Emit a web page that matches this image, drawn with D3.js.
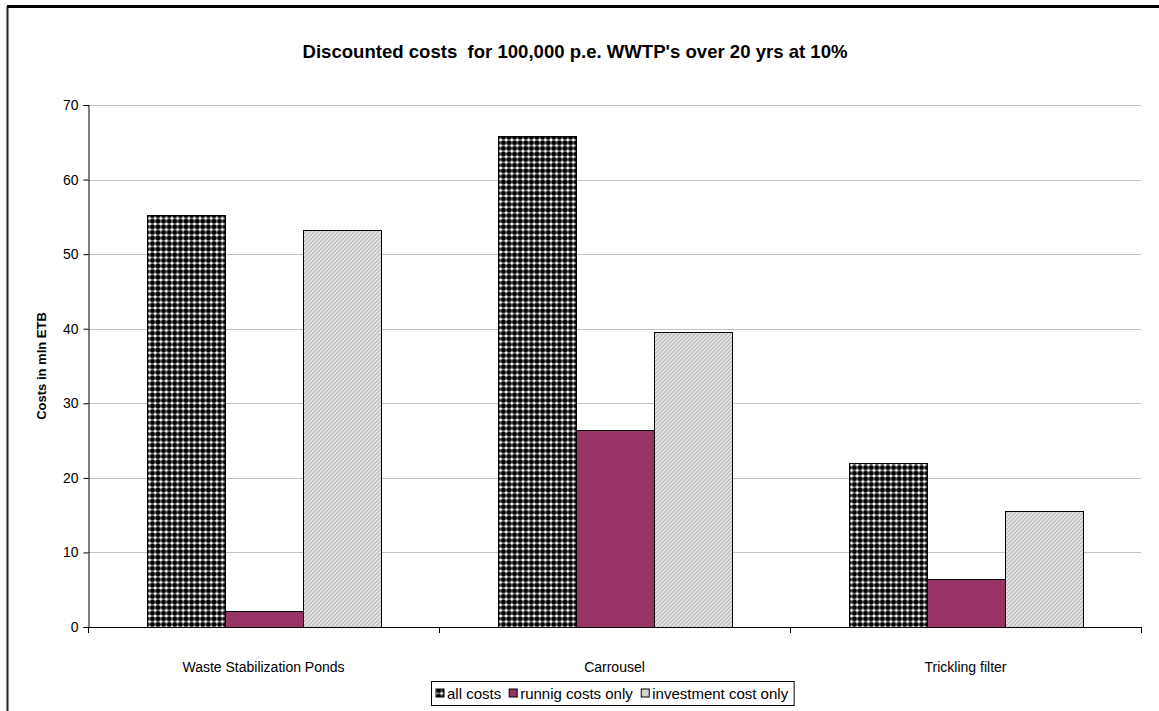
<!DOCTYPE html>
<html>
<head>
<meta charset="utf-8">
<script src="https://cdn.jsdelivr.net/npm/d3@7"></script>
<style>
  body { margin: 0; background: #fff; }
  text { font-family: Arial, "Liberation Sans", sans-serif; }
</style>
</head>
<body>
<div id="chart"></div>
<script>
let categories = ['Waste Stabilization Ponds', 'Carrousel', 'Trickling filter'];
let seriesNames = ['all costs', 'runnig costs only', 'investment cost only'];
let allCosts = [55.2, 65.9, 22.0];
let runningCosts = [2.1, 26.4, 6.4];
let investmentCosts = [53.3, 39.5, 15.5];
let yTicks = [0, 10, 20, 30, 40, 50, 60, 70];

let W = 1159, H = 711;
let plot = {left: 88, right: 1141, top: 105, bottom: 627};

let svg = d3.select('#chart').append('svg')
    .attr('width', W)
    .attr('height', H);

let defs = svg.append('defs');

// dotted pattern for "all costs"
let dots = defs.append('pattern')
    .attr('id', 'pDots')
    .attr('patternUnits', 'userSpaceOnUse')
    .attr('width', 5.6).attr('height', 5.6);
dots.append('rect').attr('width', 5.6).attr('height', 5.6).attr('fill', '#fff');
dots.append('circle').attr('cx', 2.8).attr('cy', 2.8).attr('r', 2.6).attr('fill', '#000');

// diagonal stripes for "investment cost only"
let stripes = defs.append('pattern')
    .attr('id', 'pStripes')
    .attr('patternUnits', 'userSpaceOnUse')
    .attr('width', 4).attr('height', 4);
stripes.append('rect').attr('width', 4).attr('height', 4).attr('fill', '#bdbdbd');
stripes.append('path')
    .attr('d', 'M-1,1 L1,-1 M0,4 L4,0 M3,5 L5,3')
    .attr('stroke', '#ececec')
    .attr('stroke-width', 1.3);

let fills = ['url(#pDots)', '#993366', 'url(#pStripes)'];

// outer frame (only left and top visible)
svg.append('line').attr('x1', 7.5).attr('x2', 7.5).attr('y1', 6).attr('y2', H)
    .attr('stroke', '#222').attr('stroke-width', 2);
svg.append('line').attr('x1', 7).attr('x2', W).attr('y1', 6.5).attr('y2', 6.5)
    .attr('stroke', '#000').attr('stroke-width', 3);

let x0 = d3.scaleBand().domain(categories).range([plot.left, plot.right]).paddingInner(0).paddingOuter(0);
let x1 = d3.scaleBand().domain(seriesNames).range([58.5, x0.bandwidth() - 58.5]);
let y = d3.scaleLinear().domain([0, 70]).range([plot.bottom, plot.top]);

// gridlines
svg.append('g')
    .selectAll('line')
    .data(yTicks.filter(d => d > 0))
    .enter()
    .append('line')
    .attr('x1', plot.left).attr('x2', plot.right)
    .attr('y1', d => Math.round(y(d)) + 0.5).attr('y2', d => Math.round(y(d)) + 0.5)
    .attr('stroke', '#c0c0c0');

// bars
let rows = categories.map((c, i) => ({
    cat: c,
    vals: [allCosts[i], runningCosts[i], investmentCosts[i]]
}));

let groups = svg.append('g').selectAll('g')
    .data(rows)
    .enter()
    .append('g')
    .attr('transform', d => 'translate(' + x0(d.cat) + ',0)');

groups.selectAll('rect')
    .data(d => d.vals.map((v, j) => ({name: seriesNames[j], v: v, j: j})))
    .enter()
    .append('rect')
    .attr('x', d => Math.round(x1(d.name)) + 0.5)
    .attr('y', d => Math.round(y(d.v)) + 0.5)
    .attr('width', x1.bandwidth())
    .attr('height', d => Math.round(y(0)) - Math.round(y(d.v)))
    .attr('fill', d => fills[d.j])
    .attr('stroke', '#000')
    .attr('stroke-width', 1);

// y axis
let yAxis = svg.append('g')
    .attr('transform', 'translate(' + (plot.left + 0.5) + ',0)')
    .call(d3.axisLeft(y).tickValues(yTicks).tickSize(5).tickPadding(5).tickFormat(d3.format('d')));
yAxis.select('.domain').attr('stroke', '#000');
yAxis.selectAll('text').attr('font-size', 14).attr('fill', '#000')
    .style('font-family', 'Arial, "Liberation Sans", sans-serif');

// x axis with ticks at category boundaries
let xg = svg.append('g');
xg.append('line')
    .attr('x1', plot.left).attr('x2', plot.right + 1)
    .attr('y1', Math.round(y(0)) + 0.5).attr('y2', Math.round(y(0)) + 0.5)
    .attr('stroke', '#000');
let bounds = categories.map(c => x0(c)).concat([x0.range()[1]]);
xg.selectAll('line.tk')
    .data(bounds)
    .enter()
    .append('line')
    .attr('class', 'tk')
    .attr('x1', d => Math.round(d) + 0.5).attr('x2', d => Math.round(d) + 0.5)
    .attr('y1', Math.round(y(0))).attr('y2', Math.round(y(0)) + 6)
    .attr('stroke', '#000');
xg.selectAll('text')
    .data(categories)
    .enter()
    .append('text')
    .attr('x', d => x0(d) + x0.bandwidth() / 2)
    .attr('y', 672)
    .attr('text-anchor', 'middle')
    .attr('font-size', 14)
    .text(d => d);

// y axis title
svg.append('text')
    .attr('transform', 'translate(46,' + ((plot.top + plot.bottom) / 2) + ') rotate(-90)')
    .attr('text-anchor', 'middle')
    .attr('font-size', 13)
    .attr('font-weight', 'bold')
    .text('Costs in mln ETB');

// title
svg.append('text')
    .attr('x', 575)
    .attr('y', 58)
    .attr('text-anchor', 'middle')
    .attr('font-size', 19)
    .attr('font-weight', 'bold')
    .attr('textLength', 545)
    .attr('lengthAdjust', 'spacingAndGlyphs')
    .style('white-space', 'pre')
    .text("Discounted costs  for 100,000 p.e. WWTP's over 20 yrs at 10%");

// legend
let legendBox = svg.append('rect');
let legend = svg.append('g');
let items = legend.selectAll('g')
    .data(seriesNames)
    .enter()
    .append('g');
items.append('rect')
    .attr('width', 8).attr('height', 8)
    .attr('y', -10)
    .attr('fill', (d, i) => fills[i])
    .attr('stroke', '#000');
items.append('text')
    .attr('x', 11)
    .attr('font-size', 15)
    .text(d => d);

let xpos = 0;
items.each(function () {
    let g = d3.select(this);
    g.attr('transform', 'translate(' + xpos + ',0)');
    xpos += g.node().getBBox().width + 8;
});
let legendW = xpos - 8 + 10;
let legendX = Math.round(612 - legendW / 2);
legend.attr('transform', 'translate(' + (legendX + 5) + ',699)');
legendBox
    .attr('x', legendX + 0.5).attr('y', 681.5)
    .attr('width', legendW).attr('height', 24)
    .attr('fill', '#fff')
    .attr('stroke', '#000');
</script>
</body>
</html>
